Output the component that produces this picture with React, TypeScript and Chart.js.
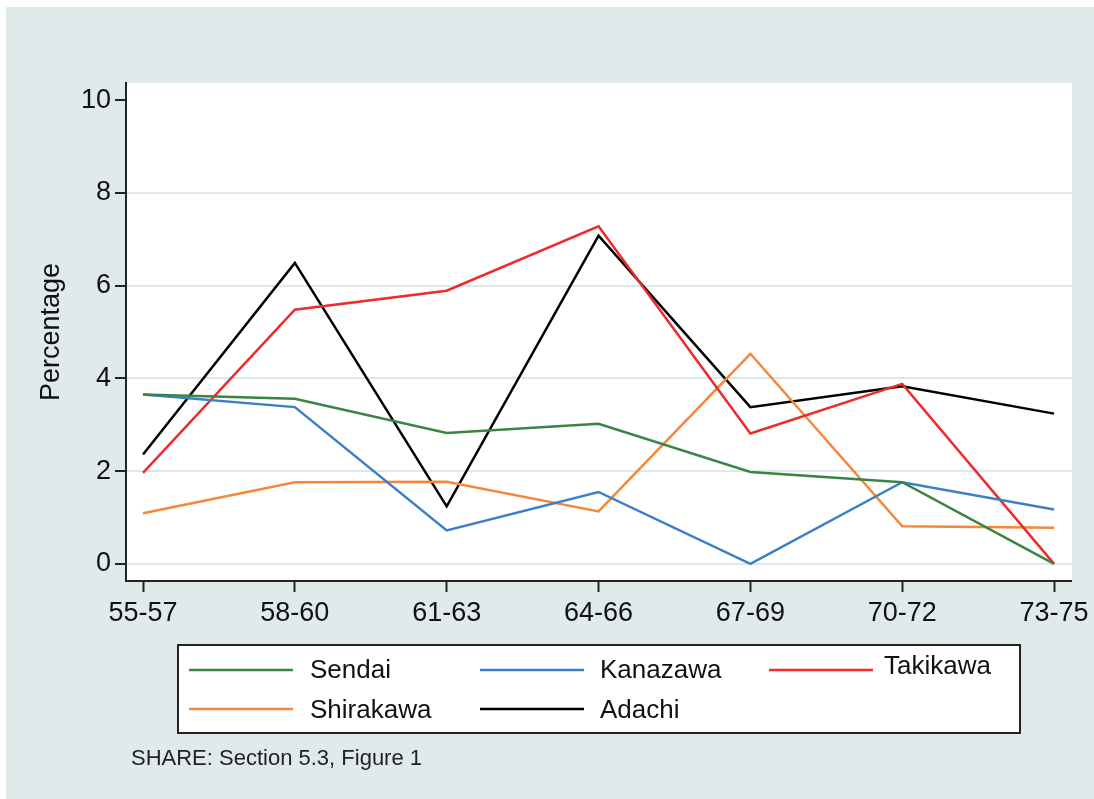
import { useEffect, useRef } from "react";
import { Chart, registerables } from "chart.js";

Chart.register(...registerables);

const periods = ["55-57", "58-60", "61-63", "64-66", "67-69", "70-72", "73-75"];
const yTicks = [0, 2, 4, 6, 8, 10];

const sendai = [3.65, 3.56, 2.82, 3.02, 1.98, 1.76, 0];
const kanazawa = [3.65, 3.38, 0.72, 1.55, 0, 1.76, 1.17];
const takikawa = [1.96, 5.48, 5.89, 7.28, 2.81, 3.88, 0];
const shirakawa = [1.09, 1.76, 1.77, 1.13, 4.53, 0.81, 0.78];
const adachi = [2.36, 6.49, 1.24, 7.08, 3.38, 3.83, 3.24];

const seriesNames = ["Sendai", "Kanazawa", "Takikawa", "Shirakawa", "Adachi"];
const seriesValues = [sendai, kanazawa, takikawa, shirakawa, adachi];
const seriesColors = ["#3a8444", "#3b7fc8", "#ee2a2a", "#f5873a", "#000000"];

const caption = "SHARE: Section 5.3, Figure 1";
const FONT = "'Liberation Sans', Arial, sans-serif";

const W = 1094;
const H = 799;

export default function App() {
  const ref = useRef<HTMLCanvasElement | null>(null);

  useEffect(() => {
    const canvas = ref.current;
    if (!canvas) return;

    const bgPlugin = {
      id: "bgPlugin",
      beforeDraw(chart: any) {
        const { ctx, chartArea } = chart;
        ctx.save();
        ctx.fillStyle = "#ffffff";
        ctx.fillRect(0, 0, W, H);
        ctx.fillStyle = "#e0eaeb";
        ctx.fillRect(6, 7, W - 6, H - 7);
        ctx.fillStyle = "#ffffff";
        ctx.fillRect(chartArea.left, chartArea.top, chartArea.right - chartArea.left, chartArea.bottom - chartArea.top);
        ctx.restore();
      },
      afterDraw(chart: any) {
        const { ctx } = chart;
        ctx.save();
        // legend box
        ctx.fillStyle = "#ffffff";
        ctx.fillRect(178, 645, 842, 88);
        ctx.strokeStyle = "#222222";
        ctx.lineWidth = 2;
        ctx.strokeRect(178, 645, 842, 88);

        const entries = [
          { lx: 189, tx: 310, y: 670, ty: 671 },
          { lx: 480, tx: 600, y: 670, ty: 671 },
          { lx: 769, tx: 884, y: 670, ty: 667 },
          { lx: 189, tx: 310, y: 709, ty: 711 },
          { lx: 480, tx: 600, y: 709, ty: 711 },
        ];
        entries.forEach((e, i) => {
          ctx.strokeStyle = seriesColors[i];
          ctx.lineWidth = 2.5;
          ctx.beginPath();
          ctx.moveTo(e.lx, e.y);
          ctx.lineTo(e.lx + 104, e.y);
          ctx.stroke();
          ctx.fillStyle = "#111111";
          ctx.font = `26px ${FONT}`;
          ctx.textBaseline = "middle";
          ctx.textAlign = "left";
          ctx.fillText(seriesNames[i], e.tx, e.ty);
        });

        ctx.fillStyle = "#222222";
        ctx.font = `22px ${FONT}`;
        ctx.textBaseline = "middle";
        ctx.fillText(caption, 131, 759);
        ctx.restore();
      },
    };

    const chart = new Chart(canvas, {
      type: "line",
      data: {
        datasets: seriesValues.map((vals, k) => ({
          label: seriesNames[k],
          data: vals.map((v, i) => ({ x: i, y: v })),
          borderColor: seriesColors[k],
          backgroundColor: seriesColors[k],
          borderWidth: 2.5,
          pointRadius: 0,
          tension: 0,
          fill: false,
        })),
      },
      options: {
        responsive: false,
        animation: false,
        layout: { padding: { left: 0, top: 83, right: 21, bottom: 159 } },
        plugins: {
          legend: { display: false },
          tooltip: { enabled: false },
        },
        scales: {
          x: {
            type: "linear",
            min: -0.112,
            max: 6.118,
            afterBuildTicks: (s: any) => {
              s.ticks = periods.map((_, i) => ({ value: i }));
            },
            afterFit: (s: any) => {
              s.height = 59;
            },
            ticks: {
              callback: (v: any) => periods[Number(v)],
              font: { size: 27, family: FONT },
              color: "#111111",
              padding: 5,
              maxRotation: 0,
              autoSkip: false,
            },
            grid: {
              drawOnChartArea: false,
              tickColor: "#222222",
              tickLength: 11,
              tickWidth: 2,
            },
            border: { display: true, color: "#222222", width: 2 },
          },
          y: {
            type: "linear",
            min: -0.37,
            max: 10.37,
            afterBuildTicks: (s: any) => {
              s.ticks = yTicks.map((v) => ({ value: v }));
            },
            afterFit: (s: any) => {
              s.width = 126;
            },
            ticks: {
              font: { size: 27, family: FONT },
              color: "#111111",
              padding: 4,
            },
            grid: {
              color: (c: any) => (c.tick && c.tick.value === 10 ? "rgba(0,0,0,0)" : "#dde8ea"),
              lineWidth: 2,
              tickColor: "#222222",
              tickLength: 11,
              tickWidth: 2,
            },
            border: { display: true, color: "#222222", width: 2 },
            title: {
              display: true,
              text: "Percentage",
              font: { size: 27, family: FONT },
              color: "#111111",
              padding: { top: 35, bottom: 0 },
            },
          },
        },
      },
      plugins: [bgPlugin],
    } as any);

    return () => chart.destroy();
  }, []);

  return (
    <div style={{ position: "absolute", left: 0, top: 0, width: W, height: H }}>
      <canvas ref={ref} width={W} height={H} style={{ display: "block" }} />
    </div>
  );
}
